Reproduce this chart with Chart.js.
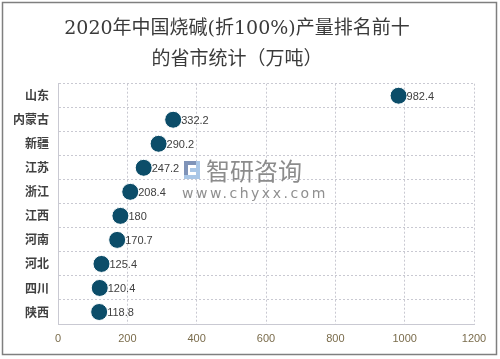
<!DOCTYPE html>
<html>
<head>
<meta charset="utf-8">
<script src="https://cdn.jsdelivr.net/npm/chart.js@4"></script>
<style>
  html, body { margin: 0; padding: 0; background: #fff; }
  #wrap { width: 500px; height: 359px; }
</style>
</head>
<body>
<div id="wrap"><canvas id="chart"></canvas></div>
<script>
// data
var provinces = ['山东', '内蒙古', '新疆', '江苏', '浙江', '江西', '河南', '河北', '四川', '陕西'];
var output = [982.4, 332.2, 290.2, 247.2, 208.4, 180, 170.7, 125.4, 120.4, 118.8];
var titleLines = ['2020年中国烧碱(折100%)产量排名前十', '的省市统计（万吨）'];

var gridColor = '#c9c9d2';

// value next to each dot
var valueLabels = {
	id: 'valueLabels',
	afterDatasetsDraw: function (chart) {
		var ctx = chart.ctx;
		var meta = chart.getDatasetMeta(0);
		ctx.save();
		ctx.font = '11px "Liberation Sans", Arial, sans-serif';
		ctx.fillStyle = '#404040';
		ctx.textAlign = 'left';
		ctx.textBaseline = 'middle';
		meta.data.forEach(function (pt, i) {
			ctx.fillText(String(output[i]), pt.x + 8, pt.y + 1);
		});
		ctx.restore();
	}
};

// watermark + outer frame
var decor = {
	id: 'decor',
	beforeDatasetsDraw: function (chart) {
		var ctx = chart.ctx;
		ctx.save();
		// little logo
		ctx.fillStyle = '#7f93b8';
		ctx.fillRect(184, 161, 12, 4);
		ctx.fillRect(184, 161, 4, 18);
		ctx.fillStyle = '#a9c6e6';
		ctx.fillRect(190, 168, 10, 4);
		ctx.fillRect(196, 161, 4, 18);
		ctx.fillRect(184, 175, 16, 4);
		ctx.fillStyle = '#8c8c8c';
		ctx.font = '24px "Noto Sans CJK SC", sans-serif';
		ctx.textAlign = 'left';
		ctx.textBaseline = 'middle';
		ctx.fillText('智研咨询', 206, 171);
		ctx.font = '14px "DejaVu Sans", sans-serif';
		ctx.fillStyle = '#8f8f8f';
		ctx.letterSpacing = '2.5px';
		ctx.fillText('www.chyxx.com', 182, 194);
		ctx.restore();
	},
	afterDraw: function (chart) {
		var ctx = chart.ctx;
		ctx.save();
		ctx.strokeStyle = '#7f7f7f';
		ctx.lineWidth = 1.5;
		ctx.strokeRect(2.5, 2.5, 494, 352);
		ctx.restore();
	}
};

var ctx = document.getElementById('chart').getContext('2d');
var chart = new Chart(ctx, {
	type: 'line',
	data: {
		labels: provinces,
		datasets: [{
			data: output,
			showLine: false,
			pointRadius: 8.5,
			pointHoverRadius: 8.5,
			pointBackgroundColor: '#0c4d69',
			pointBorderColor: '#ffffff',
			pointBorderWidth: 1
		}]
	},
	options: {
		indexAxis: 'y',
		responsive: true,
		maintainAspectRatio: false,
		animation: false,
		layout: {
			padding: { left: 0, right: 26, top: 0, bottom: 6 }
		},
		plugins: {
			legend: { display: false },
			tooltip: { enabled: false },
			title: {
				display: true,
				text: titleLines,
				color: '#3a3a3a',
				font: { family: '"DejaVu Serif", "Noto Sans CJK SC", serif', size: 19, weight: 'normal', lineHeight: 1.65 },
				padding: { top: 13, bottom: 8 }
			}
		},
		scales: {
			x: {
				min: 0,
				max: 1200,
				ticks: {
					stepSize: 200,
					color: '#7a6c4c',
					font: { family: '"Liberation Sans", Arial, sans-serif', size: 11 },
					padding: 8,
					callback: function (v) { return String(v); }
				},
				grid: { color: gridColor, drawTicks: false },
				border: { color: gridColor, dash: [2, 2] },
				afterFit: function (scale) { scale.height = 29; }
			},
			y: {
				offset: true,
				ticks: {
					color: '#404040',
					font: { family: '"Noto Sans CJK SC", sans-serif', size: 12, weight: 'bold' },
					padding: 9
				},
				grid: { color: gridColor, offset: true, drawTicks: false },
				border: { color: gridColor, dash: [2, 2] },
				afterFit: function (scale) { scale.width = 58; }
			}
		}
	},
	plugins: [valueLabels, decor]
});
</script>
</body>
</html>
